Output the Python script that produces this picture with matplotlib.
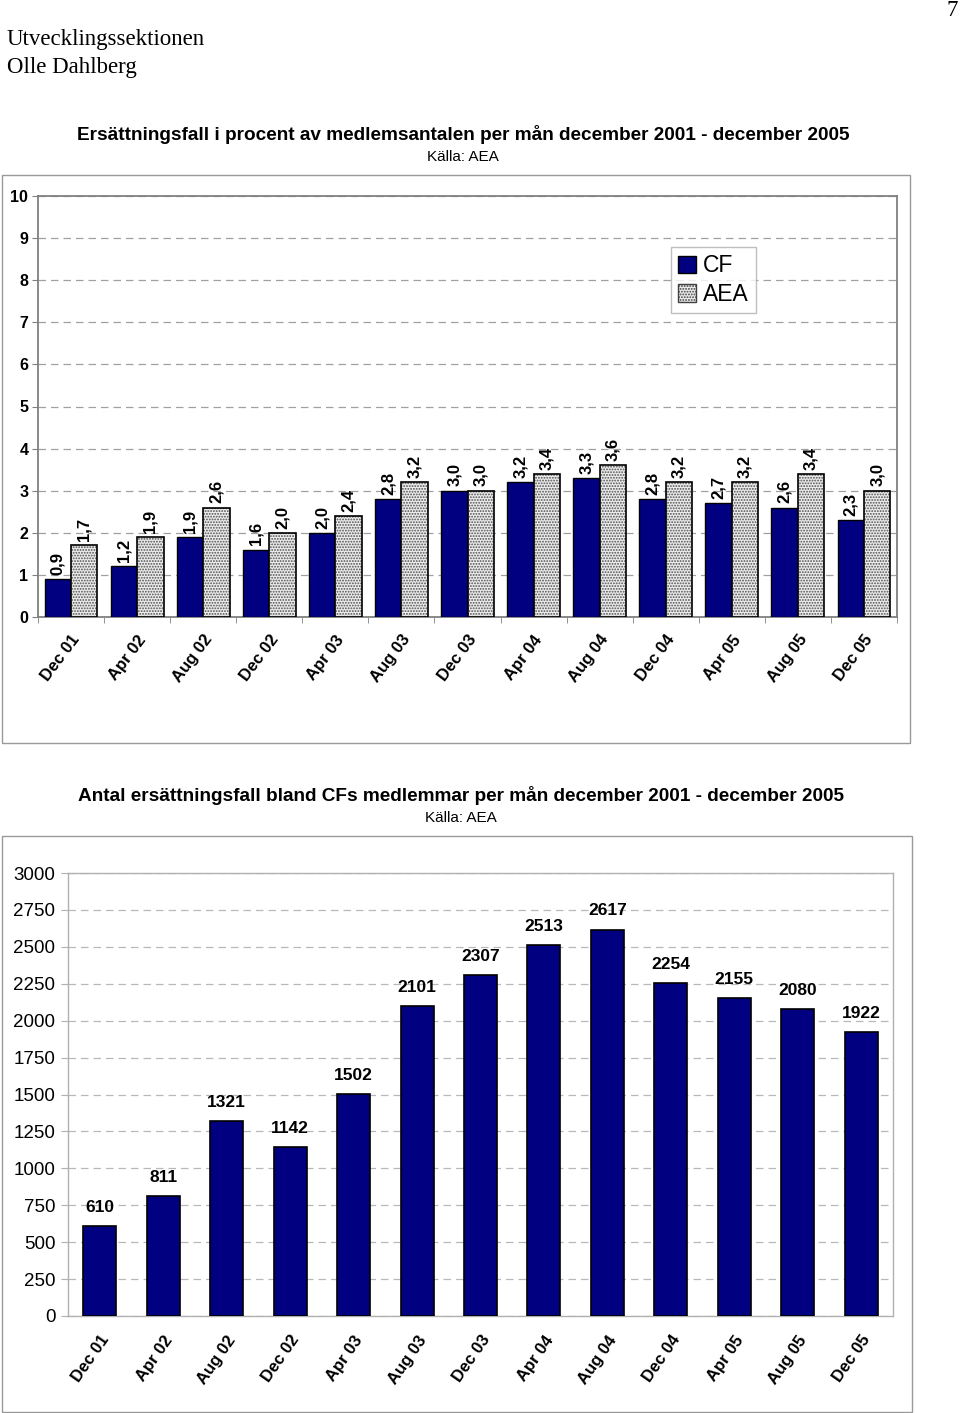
import matplotlib.pyplot as plt
import numpy as np
from matplotlib.patches import Rectangle, Patch

months = ["Dec 01", "Apr 02", "Aug 02", "Dec 02", "Apr 03", "Aug 03", "Dec 03",
          "Apr 04", "Aug 04", "Dec 04", "Apr 05", "Aug 05", "Dec 05"]
cf_pct = [0.9, 1.2, 1.9, 1.6, 2.0, 2.8, 3.0, 3.2, 3.3, 2.8, 2.7, 2.6, 2.3]
aea_pct = [1.7, 1.9, 2.6, 2.0, 2.4, 3.2, 3.0, 3.4, 3.6, 3.2, 3.2, 3.4, 3.0]
cf_count = [610, 811, 1321, 1142, 1502, 2101, 2307, 2513, 2617, 2254, 2155, 2080, 1922]

plt.rcParams['font.family'] = ['Liberation Sans', 'DejaVu Sans']
plt.rcParams['hatch.linewidth'] = 0.9
navy = '#000080'

fig = plt.figure(figsize=(9.6, 14.13), dpi=100)

# page header
fig.text(7 / 960, 1 - 39 / 1413, "Utvecklingssektionen", family='Liberation Serif',
         fontsize=16.5, va='center', ha='left')
fig.text(7 / 960, 1 - 68 / 1413, "Olle Dahlberg", family='Liberation Serif',
         fontsize=16.5, va='center', ha='left')
fig.text(958 / 960, 1 - 10 / 1413, "7", family='Liberation Serif',
         fontsize=16.5, va='center', ha='right')

# outer frames
fig.patches.append(Rectangle((2 / 960, 1 - 743 / 1413), 908 / 960, 568 / 1413,
                             transform=fig.transFigure, fill=False, ec='#999999', lw=1))
fig.patches.append(Rectangle((2 / 960, 1 - 1412 / 1413), 910 / 960, 576 / 1413,
                             transform=fig.transFigure, fill=False, ec='#999999', lw=1))

x = np.arange(len(months))

# ---- chart 1 ----
fig.text(463 / 960, 1 - 135 / 1413,
         "Ersättningsfall i procent av medlemsantalen per mån december 2001 - december 2005",
         ha='center', va='center', fontsize=13.7, fontweight='bold')
fig.text(463 / 960, 1 - 157 / 1413, "Källa: AEA", ha='center', va='center', fontsize=11)

ax1 = fig.add_axes([38 / 960, 796 / 1413, 859 / 960, 421 / 1413])
w = 0.4
ax1.bar(x - w / 2, cf_pct, w, color=navy, edgecolor='black', lw=1, zorder=3)
ax1.bar(x + w / 2, aea_pct, w, color='#ececec', hatch='......', edgecolor='#505050', lw=0, zorder=3)
ax1.bar(x + w / 2, aea_pct, w, fill=False, edgecolor='black', lw=1.2, zorder=4)
for i in range(len(months)):
    ax1.text(x[i] - w / 2, cf_pct[i] + 0.1, f"{cf_pct[i]:.1f}".replace('.', ','),
             rotation=90, ha='center', va='bottom', fontsize=12, fontweight='bold')
    ax1.text(x[i] + w / 2, aea_pct[i] + 0.1, f"{aea_pct[i]:.1f}".replace('.', ','),
             rotation=90, ha='center', va='bottom', fontsize=12, fontweight='bold')
ax1.set_xlim(-0.5, len(months) - 0.5)
ax1.set_ylim(0, 10)
ax1.set_yticks(range(0, 11))
ax1.yaxis.grid(True, ls=(0, (6, 4)), color='#a0a0a0', lw=0.9)
ax1.set_axisbelow(True)
ax1.set_xticks(x)
ax1.set_xticklabels(months, rotation=53, ha='right', rotation_mode='anchor',
                    fontsize=12, fontweight='bold')
ax1.set_xticks(np.arange(-0.5, len(months)), minor=True)
ax1.tick_params(axis='x', which='major', length=0, pad=11)
ax1.tick_params(axis='x', which='minor', length=4, color='#808080')
ax1.tick_params(axis='y', length=4, color='#808080', labelsize=11.5, pad=3)
for lab in ax1.get_yticklabels():
    lab.set_fontweight('bold')
for s in ax1.spines.values():
    s.set_color('#808080')
    s.set_linewidth(1.3)
handles = [Patch(facecolor=navy, edgecolor='black', label='CF'),
           Patch(facecolor='#ececec', hatch='......', edgecolor='#404040', label='AEA')]
leg = ax1.legend(handles=handles, loc='upper left', bbox_to_anchor=(0.737, 0.878),
                 fontsize=16.5, frameon=True, fancybox=False, edgecolor='#b0b0b0',
                 handlelength=0.8, handleheight=0.8, handletextpad=0.3,
                 labelspacing=0.25, borderpad=0.3, borderaxespad=0)
leg.get_frame().set_linewidth(1)

# ---- chart 2 ----
fig.text(461 / 960, 1 - 796 / 1413,
         "Antal ersättningsfall bland CFs medlemmar per mån december 2001 - december 2005",
         ha='center', va='center', fontsize=13.7, fontweight='bold')
fig.text(461 / 960, 1 - 818 / 1413, "Källa: AEA", ha='center', va='center', fontsize=11)

ax2 = fig.add_axes([68 / 960, 97 / 1413, 825 / 960, 443 / 1413])
ax2.bar(x, cf_count, 0.52, color=navy, edgecolor='black', lw=1.2, zorder=3)
for i in range(len(months)):
    ax2.text(x[i], cf_count[i] + 75, str(cf_count[i]), ha='center', va='bottom',
             fontsize=12.5, fontweight='bold')
ax2.set_xlim(-0.5, len(months) - 0.5)
ax2.set_ylim(0, 3000)
ax2.set_yticks(range(0, 3001, 250))
ax2.yaxis.grid(True, ls=(0, (6, 4)), color='#b8b8b8', lw=0.9)
ax2.set_axisbelow(True)
ax2.set_xticks(x)
ax2.set_xticklabels(months, rotation=55, ha='right', rotation_mode='anchor',
                    fontsize=12, fontweight='bold')
ax2.tick_params(axis='x', length=0, pad=12)
ax2.tick_params(axis='y', length=5, color='#b0b0b0', labelsize=13.5, pad=4)
for s in ax2.spines.values():
    s.set_color('#b0b0b0')
    s.set_linewidth(1)

plt.savefig('out.png', dpi=100)
